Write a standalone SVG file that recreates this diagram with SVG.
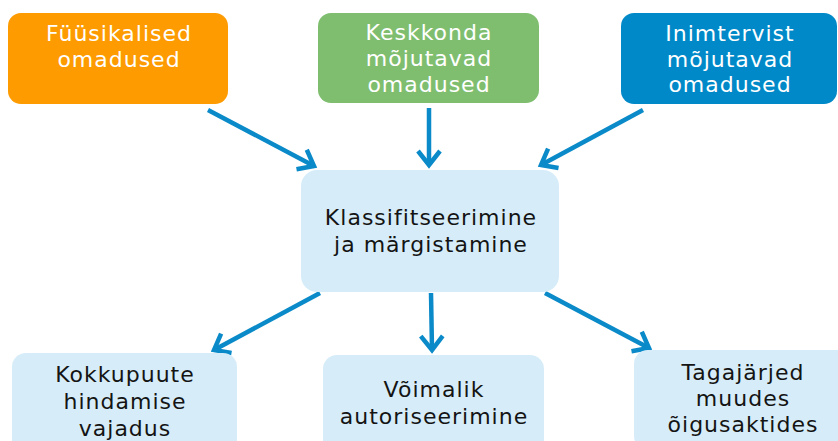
<svg xmlns="http://www.w3.org/2000/svg" width="838" height="441" viewBox="0 0 838 441">
<style>
.t{font-family:"DejaVu Sans","Verdana",sans-serif;font-size:22px;letter-spacing:1px;text-anchor:middle}
.w{fill:#ffffff}
.k{fill:#141414}
.lb{fill:#d6edf9}
.c{stroke:#0a8ac8;stroke-width:4.5;fill:none;marker-end:url(#ah)}
</style>
<defs>
<marker id="ah" markerUnits="userSpaceOnUse" markerWidth="34" markerHeight="34" refX="0" refY="0" viewBox="-22 -17 34 34" orient="auto">
<path d="M-14,-11 L0,0 L-14,11" fill="none" stroke="#0a8ac8" stroke-width="4.5" stroke-linejoin="miter"/>
</marker>
</defs>
<g id="connectors">
<line class="c" x1="208" y1="110" x2="314" y2="166"/>
<line class="c" x1="429" y1="108" x2="429" y2="165"/>
<line class="c" x1="643" y1="110" x2="541" y2="165"/>
<line class="c" x1="320" y1="293" x2="214" y2="350"/>
<line class="c" x1="431" y1="293" x2="432" y2="350"/>
<line class="c" x1="545" y1="293" x2="649" y2="348"/>
</g>
<g id="n1">
<rect x="8" y="13" width="220" height="91" rx="13" fill="#fd9b00"/>
<text class="t w" x="119" y="41">Füüsikalised</text>
<text class="t w" x="119" y="67">omadused</text>
</g>
<g id="n2">
<rect x="318" y="13" width="221" height="90" rx="13" fill="#7fbe6f"/>
<text class="t w" x="429" y="40">Keskkonda</text>
<text class="t w" x="429" y="66">mõjutavad</text>
<text class="t w" x="429" y="92">omadused</text>
</g>
<g id="n3">
<rect x="621" y="13" width="216" height="91" rx="13" fill="#0089c8"/>
<text class="t w" x="730" y="41">Inimtervist</text>
<text class="t w" x="730" y="67">mõjutavad</text>
<text class="t w" x="730" y="92">omadused</text>
</g>
<g id="n4">
<rect class="lb" x="301" y="170" width="258" height="122" rx="16"/>
<text class="t k" x="431" y="225">Klassifitseerimine</text>
<text class="t k" x="431" y="252">ja märgistamine</text>
</g>
<g id="n5">
<rect class="lb" x="12" y="353" width="225" height="100" rx="14"/>
<text class="t k" x="125" y="382">Kokkupuute</text>
<text class="t k" x="125" y="409">hindamise</text>
<text class="t k" x="125" y="436">vajadus</text>
</g>
<g id="n6">
<rect class="lb" x="323" y="355" width="221" height="100" rx="14"/>
<text class="t k" x="434" y="397">Võimalik</text>
<text class="t k" x="434" y="424">autoriseerimine</text>
</g>
<g id="n7">
<rect class="lb" x="634" y="350" width="220" height="100" rx="14"/>
<text class="t k" x="743" y="380">Tagajärjed</text>
<text class="t k" x="743" y="406">muudes</text>
<text class="t k" x="743" y="432">õigusaktides</text>
</g>
</svg>
